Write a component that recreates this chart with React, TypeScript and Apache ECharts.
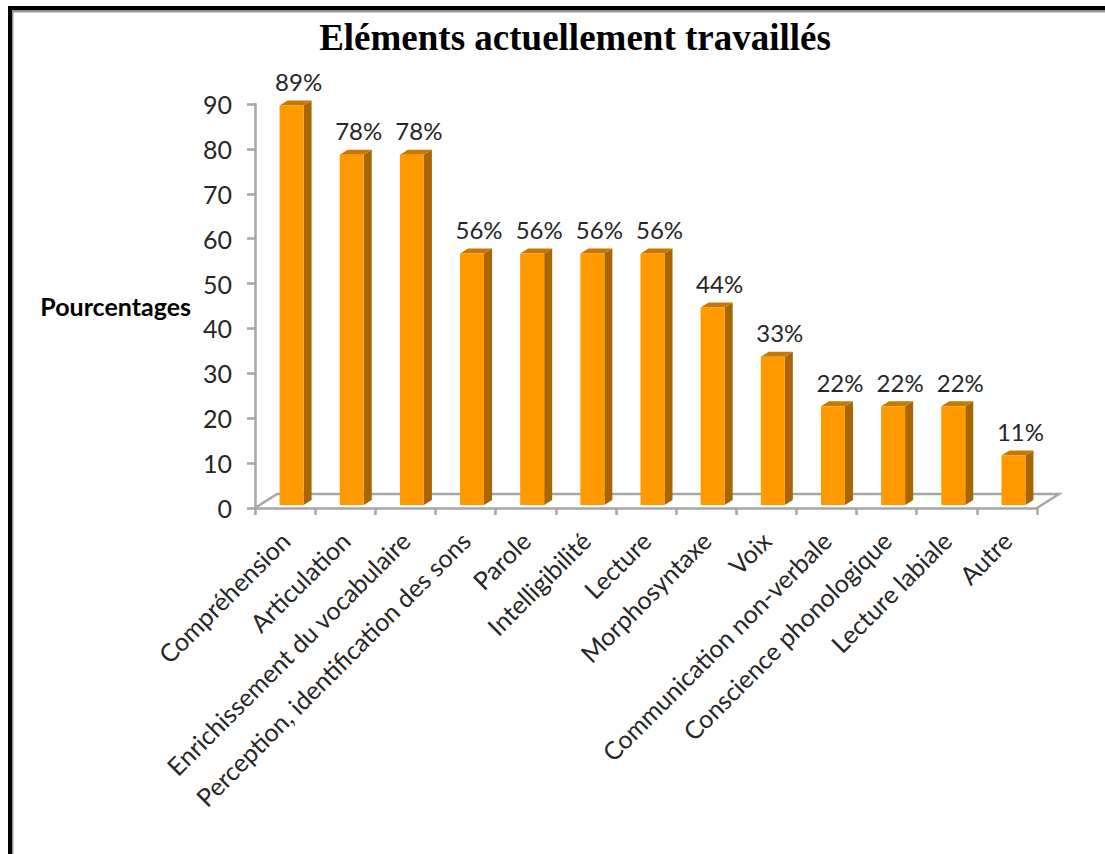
import React, { useEffect, useRef } from "react";
import * as echarts from "echarts";

const TITLE = "Eléments actuellement travaillés";
const Y_NAME = "Pourcentages";
const categories = [
  "Compréhension",
  "Articulation",
  "Enrichissement du vocabulaire",
  "Perception, identification des sons",
  "Parole",
  "Intelligibilité",
  "Lecture",
  "Morphosyntaxe",
  "Voix",
  "Communication non-verbale",
  "Conscience phonologique",
  "Lecture labiale",
  "Autre",
];
const values = [89, 78, 78, 56, 56, 56, 56, 44, 33, 22, 22, 22, 11];

const FONT = "Lato";
const TEXT = "#262626";
const AXIS = "#a6a6a6";
const FRONT = "#ff9900";
const SIDE = "#a86500";
const TOP = "#c87800";
const DX = 8;
const DY = 5;
const BAR_W = 24;
const BAR_SHIFT_X = 6.5;
const BAR_SHIFT_Y = -3;

export default function App() {
  const ref = useRef<HTMLDivElement>(null);
  useEffect(() => {
    const chart = echarts.init(ref.current!, undefined, { renderer: "svg" });
    chart.setOption({
      animation: false,
      backgroundColor: "#ffffff",
      title: {
        text: TITLE,
        left: 570,
        top: 14,
        textAlign: "center",
        textStyle: { fontFamily: "Liberation Serif", fontWeight: "bold", fontSize: 37, color: "#000" },
      },
      grid: { left: 255, top: 104, width: 782, height: 404 },
      xAxis: {
        type: "category",
        data: categories,
        axisLine: { show: true, lineStyle: { color: AXIS, width: 2.5 } },
        axisTick: { show: true, alignWithLabel: false, length: 7, lineStyle: { color: AXIS, width: 2.5 } },
        axisLabel: {
          interval: 0,
          rotate: 45,
          margin: 28,
          fontFamily: FONT,
          fontSize: 25,
          color: TEXT,
        },
      },
      yAxis: {
        type: "value",
        min: 0,
        max: 90,
        interval: 10,
        name: Y_NAME,
        nameLocation: "middle",
        nameRotate: 0,
        nameGap: 64,
        nameTextStyle: { fontFamily: FONT, fontWeight: "bold", fontSize: 25, color: "#000", padding: [4, 0, 0, 0] },
        axisLine: { show: true, lineStyle: { color: AXIS, width: 2.5 } },
        axisTick: { show: true, length: 8, lineStyle: { color: AXIS, width: 2.5 } },
        axisLabel: { margin: 23, fontFamily: FONT, fontSize: 25, color: TEXT },
        splitLine: { show: false },
      },
      graphic: [
        { type: "rect", silent: true, shape: { x: 8, y: 6, width: 1097, height: 4.5 }, style: { fill: "#000" } },
        { type: "rect", silent: true, shape: { x: 8, y: 6, width: 4, height: 848 }, style: { fill: "#000" } },
        { type: "rect", silent: true, shape: { x: 12, y: 10.5, width: 1093, height: 2 }, style: { fill: "#999" } },
        { type: "rect", silent: true, shape: { x: 12, y: 10.5, width: 1.5, height: 843.5 }, style: { fill: "#999" } },
      ],
      series: [
        {
          type: "custom",
          coordinateSystem: "cartesian2d",
          z: 1,
          silent: true,
          data: [[0, 0]],
          renderItem: (params: any, api: any) => {
            const c = params.coordSys;
            const y0 = api.coord([0, 0])[1];
            const b = y0 - 14;
            const off = 22;
            const x0 = c.x;
            const x1 = c.x + c.width;
            return {
              type: "polyline",
              shape: { points: [[x0, y0], [x0 + off, b], [x1 + off, b], [x1, y0]] },
              style: { stroke: AXIS, lineWidth: 2.5, fill: "none" },
            };
          },
        },
        {
          type: "custom",
          coordinateSystem: "cartesian2d",
          z: 2,
          silent: true,
          data: values.map((v, i) => [i, v]),
          encode: { x: 0, y: 1 },
          renderItem: (_params: any, api: any) => {
            const i = api.value(0);
            const v = api.value(1);
            const top = api.coord([i, v]);
            const base = api.coord([i, 0]);
            const x = top[0] + BAR_SHIFT_X - BAR_W / 2;
            const yT = top[1] + BAR_SHIFT_Y;
            const yB = base[1] + BAR_SHIFT_Y;
            return {
              type: "group",
              children: [
                {
                  type: "polygon",
                  shape: { points: [[x + BAR_W, yT], [x + BAR_W + DX, yT - DY], [x + BAR_W + DX, yB - DY], [x + BAR_W, yB]] },
                  style: { fill: SIDE },
                },
                {
                  type: "polygon",
                  shape: { points: [[x, yT], [x + DX, yT - DY], [x + BAR_W + DX, yT - DY], [x + BAR_W, yT]] },
                  style: { fill: TOP },
                },
                {
                  type: "rect",
                  shape: { x, y: yT, width: BAR_W, height: yB - yT },
                  style: { fill: FRONT },
                },
                {
                  type: "text",
                  x: x + 19,
                  y: yT - 12,
                  style: {
                    text: `${v}%`,
                    fontFamily: FONT,
                    fontSize: 24,
                    fill: TEXT,
                    align: "center",
                    verticalAlign: "bottom",
                  },
                },
              ],
            };
          },
        },
      ],
    });
    return () => chart.dispose();
  }, []);
  return <div ref={ref} style={{ position: "fixed", left: 0, top: 0, width: 1105, height: 854 }} />;
}
